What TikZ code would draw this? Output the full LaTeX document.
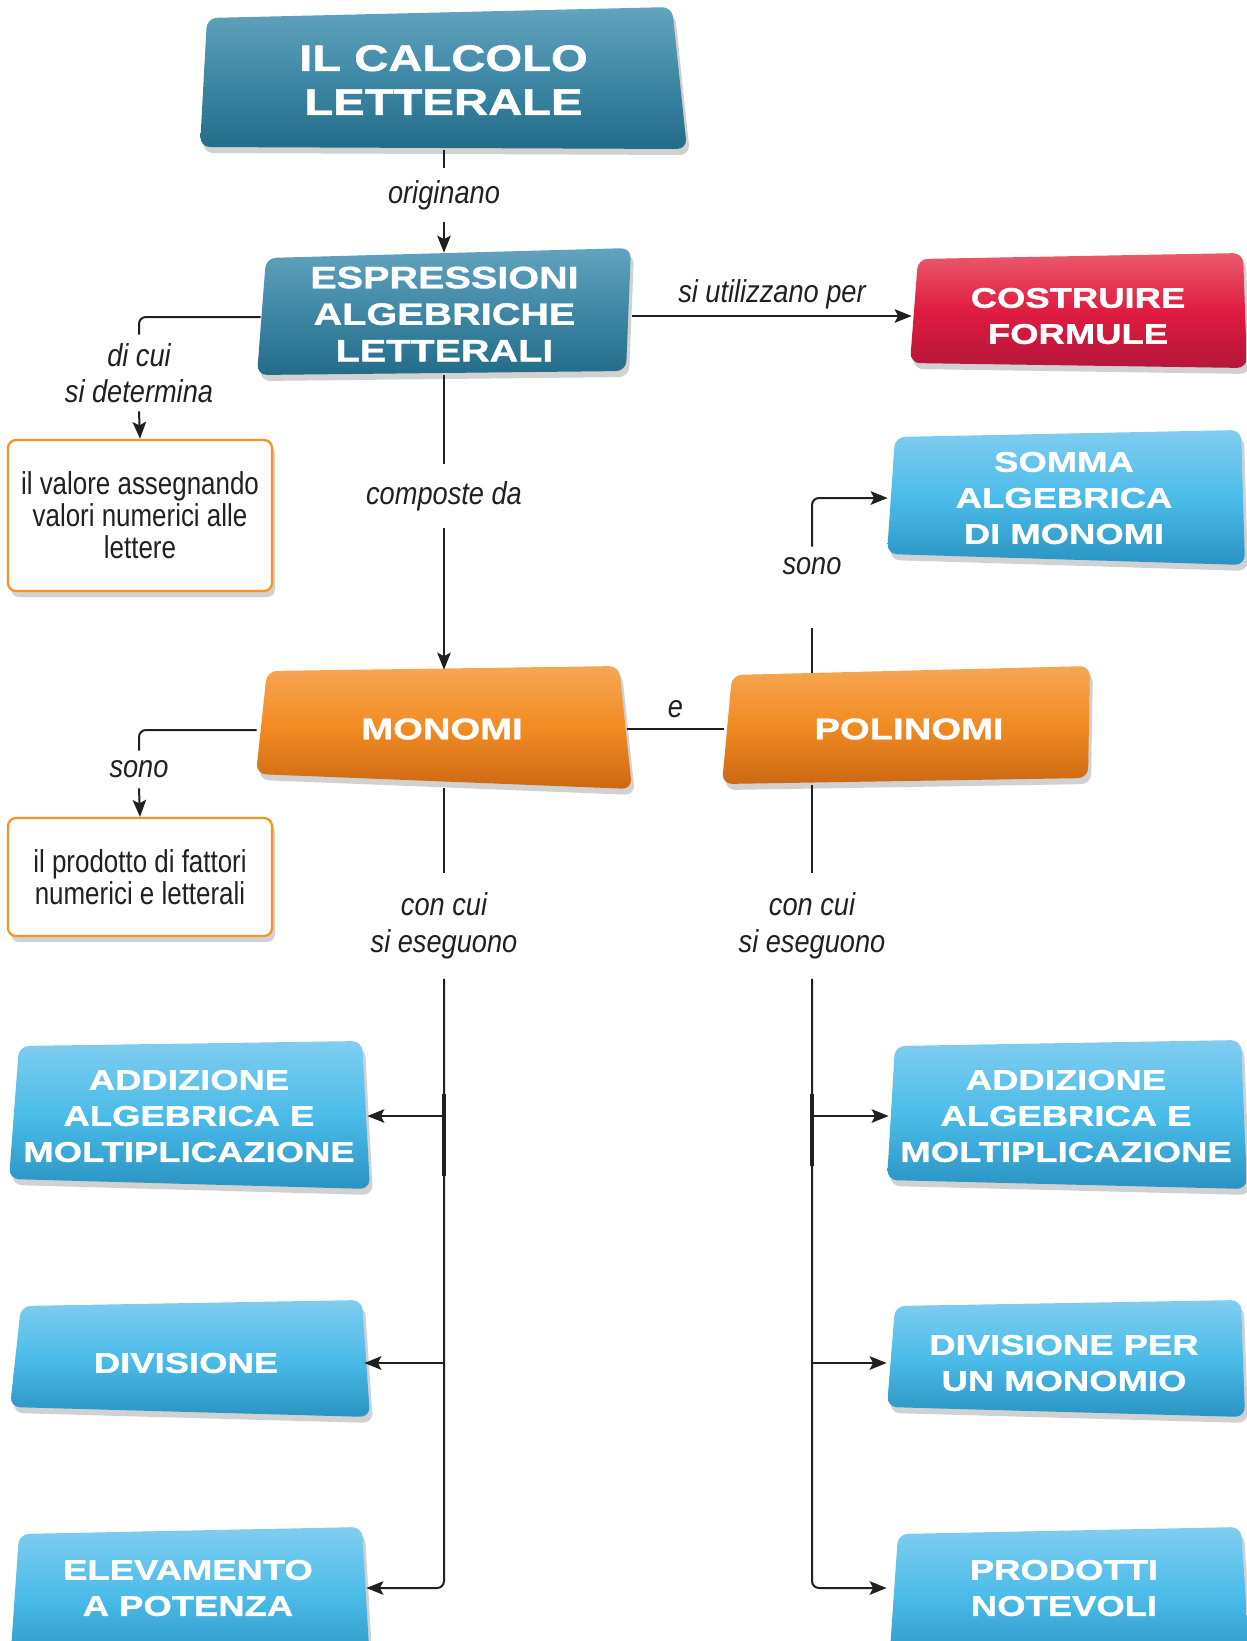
\documentclass[tikz,border=0pt]{standalone}
\usepackage{fontspec}
\setmainfont{Liberation Sans}
\newfontfamily\boxfont[FakeStretch=1.28,FakeBold=1.2]{Liberation Sans}
\newfontfamily\labfont[FakeStretch=0.86]{Liberation Sans}
\newfontfamily\bodyfont[FakeStretch=0.82]{Liberation Sans}
\usetikzlibrary{arrows.meta,shadows,calc}
\definecolor{ink}{HTML}{231F20}
\definecolor{tealT}{HTML}{62A3BE}\definecolor{tealM}{HTML}{3F88A5}\definecolor{tealB}{HTML}{226C8A}
\definecolor{redT}{HTML}{EA5A6C}\definecolor{redM}{HTML}{E01C41}\definecolor{redB}{HTML}{B5163A}
\definecolor{bluT}{HTML}{80CDF0}\definecolor{bluM}{HTML}{4BBCE9}\definecolor{bluB}{HTML}{2A93C2}
\definecolor{orT}{HTML}{F6A754}\definecolor{orM}{HTML}{F28B22}\definecolor{orB}{HTML}{CC6814}
\definecolor{orLine}{HTML}{F7941D}
\newcommand\skb[5]{\path[#1] #2 -- #3 -- #4 -- #5 -- cycle;}
\begin{document}
\begin{tikzpicture}[x=0.02cm,y=-0.02cm,
  sz/.style 2 args={minimum width=#1*0.02cm, minimum height=#2*0.02cm},
  shp/.style={rounded corners=0.2cm, drop shadow={shadow xshift=0.06cm, shadow yshift=-0.12cm, opacity=0.18, fill=black}},
  teal/.style={shp, top color=tealT, bottom color=tealB, middle color=tealM},
  redb/.style={shp, top color=redT, bottom color=redB, middle color=redM},
  blu/.style={shp, top color=bluT, bottom color=bluB, middle color=bluM},
  orn/.style={shp, top color=orT, bottom color=orB, middle color=orM},
  bt/.style={text=white, align=center, inner sep=0pt, font=\boxfont\bfseries\fontsize{16.2}{20.5}\selectfont},
  wbox/.style={draw=orLine, fill=white, line width=0.045cm, rounded corners=0.16cm, align=center, text=ink,
     font=\bodyfont\fontsize{18}{18.2}\selectfont, drop shadow={shadow xshift=0.06cm, shadow yshift=-0.12cm, opacity=0.18, fill=black}},
  lab/.style={font=\labfont\itshape\fontsize{18}{20.8}\selectfont, text=ink, align=center, inner sep=0pt},
  ln/.style={draw=ink, line width=0.04cm},
  arr/.style={ln, -{Stealth[length=0.34cm,width=0.27cm,inset=0.07cm]}},
  rc/.style={rounded corners=0.14cm}
]
\useasboundingbox (0,0) rectangle (1247,1641);
\clip (0,0) rectangle (1247,1641);
\fill[white] (0,0) rectangle (1247,1641);

% box shapes
\skb{teal}{(207,18)}{(672,7)}{(687,149)}{(200,147)}
\skb{teal}{(266,258)}{(631,248)}{(626,371)}{(257,375)}
\skb{redb}{(918,259)}{(1243,253)}{(1247,368)}{(910,363)}
\skb{blu}{(895,437)}{(1241,430)}{(1245,565)}{(887,554)}
\skb{orn}{(267,671)}{(619,666)}{(632,789)}{(256,774)}
\skb{orn}{(732,675)}{(1090,666)}{(1088,778)}{(722,784)}
\skb{blu}{(19,1046)}{(362,1041)}{(370,1189)}{(9,1179)}
\skb{blu}{(21,1306)}{(362,1300)}{(370,1417)}{(10,1407)}
\skb{blu}{(19,1534)}{(362,1527)}{(370,1665)}{(10,1665)}
\skb{blu}{(895,1046)}{(1241,1040)}{(1247,1189)}{(887,1180)}
\skb{blu}{(895,1306)}{(1241,1300)}{(1245,1417)}{(887,1407)}
\skb{blu}{(898,1534)}{(1241,1527)}{(1250,1665)}{(889,1665)}

% box nodes
\node[bt, sz={487}{140}, font=\boxfont\bfseries\fontsize{21}{25}\selectfont] (title) at (443.5,80) {IL CALCOLO\\LETTERALE};
\node[bt, sz={375}{122}, font=\boxfont\bfseries\fontsize{17.6}{20.8}\selectfont] (espr) at (444.5,314) {ESPRESSIONI\\ALGEBRICHE\\LETTERALI};
\node[bt, sz={332}{100}] (cost) at (1078,316) {COSTRUIRE\\FORMULE};
\node[bt, sz={352}{126}] (somma) at (1064,498) {SOMMA\\ALGEBRICA\\DI MONOMI};
\node[bt, sz={370}{118}, font=\boxfont\bfseries\fontsize{17}{20.5}\selectfont] (mon) at (442,729) {MONOMI};
\node[bt, sz={370}{112}, font=\boxfont\bfseries\fontsize{17}{20.5}\selectfont] (pol) at (909,729) {POLINOMI};
\node[bt, sz={356}{143}] (addL) at (189,1116) {ADDIZIONE\\ALGEBRICA E\\MOLTIPLICAZIONE};
\node[bt, sz={356}{112}] (divL) at (186,1363) {DIVISIONE};
\node[bt, sz={356}{110}] (eleL) at (188,1588) {ELEVAMENTO\\A POTENZA};
\node[bt, sz={354}{143}] (addR) at (1066,1116) {ADDIZIONE\\ALGEBRICA E\\MOLTIPLICAZIONE};
\node[bt, sz={354}{112}] (divR) at (1064,1363) {DIVISIONE PER\\UN MONOMIO};
\node[bt, sz={354}{110}] (prodR) at (1064,1588) {PRODOTTI\\NOTEVOLI};

% white boxes
\node[wbox, sz={264}{151}] (val) at (140,515.5) {il valore assegnando\\valori numerici alle\\lettere};
\node[wbox, sz={264}{118}] (prod) at (140,877) {il prodotto di fattori\\numerici e letterali};

% label nodes
\node[lab, minimum height=54*0.02cm] (orig) at (444,195) {originano};
\node[lab, minimum height=64*0.02cm] (comp) at (444,496) {composte da};
\node[lab, minimum height=76*0.02cm] (dicui) at (139,373) {di cui\\si determina};
\node[lab, minimum height=37*0.02cm] (sonoL) at (139,769.5) {sono};
\node[lab, minimum height=38*0.02cm] (sonoR) at (812,566) {sono};
\coordinate (sonoRb) at (812,628);
\node[lab, minimum height=105*0.02cm] (conL) at (444,926) {con cui\\si eseguono};
\node[lab, minimum height=105*0.02cm] (conR) at (812,926) {con cui\\si eseguono};

% connectors
\draw[ln] (title.south -| orig) -- (orig.north);
\draw[arr] (orig.south) -- (espr.north -| orig);
\draw[ln] (espr.south -| comp) -- (comp.north);
\draw[arr] (comp.south) -- (mon.north -| comp);
\draw[ln, rc] ($(espr.west)+(4,3)$) -| (dicui.north);
\draw[arr] (dicui.south) -- (val.north);
\draw[arr] (espr.east |- cost.west) -- node[lab, above=0.12cm] {si utilizzano per} (cost.west);
\draw[ln] (mon.east) -- node[lab, above=0.2cm] {e} (pol.west);
\draw[ln, rc] ($(mon.west)+(0,1)$) -| (sonoL.north);
\draw[arr] (sonoL.south) -- (prod.north);
\draw[ln] (pol.north -| sonoRb) -- (sonoRb);
\draw[arr, rc] (sonoR.north) |- (somma.west);
% left operations
\draw[ln] (mon.south -| conL) -- (conL.north);
\draw[arr, rc] (conL.south) |- (eleL.east);
\draw[arr] (conL.south |- addL.east) -- (addL.east);
\draw[arr] (conL.south |- divL.east) -- (divL.east);
\draw[ink, line width=0.065cm] ($(conL.south |- addL.east)+(0,-22)$) -- ($(conL.south |- addL.east)+(0,60)$);
% right operations
\draw[ln] (pol.south -| conR) -- (conR.north);
\draw[arr, rc] (conR.south) |- (prodR.west);
\draw[arr] (conR.south |- addR.west) -- (addR.west);
\draw[arr] (conR.south |- divR.west) -- (divR.west);
\draw[ink, line width=0.065cm] ($(conR.south |- addR.west)+(0,-22)$) -- ($(conR.south |- addR.west)+(0,50)$);
\end{tikzpicture}
\end{document}
